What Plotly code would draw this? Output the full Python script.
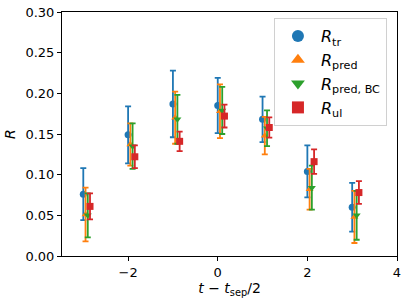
import plotly.graph_objects as go

t = [-3, -2, -1, 0, 1, 2, 3]
offsets = [0.0, 0.05, 0.10, 0.15]

r_tr = [0.076, 0.149, 0.187, 0.185, 0.168, 0.104, 0.060]
e_tr = [0.032, 0.035, 0.041, 0.034, 0.028, 0.032, 0.030]
r_pred = [0.051, 0.137, 0.170, 0.178, 0.148, 0.082, 0.048]
e_pred = [0.033, 0.026, 0.032, 0.033, 0.023, 0.025, 0.032]
r_bc = [0.050, 0.135, 0.168, 0.179, 0.157, 0.084, 0.050]
e_bc = [0.027, 0.028, 0.030, 0.029, 0.022, 0.027, 0.030]
r_ul = [0.061, 0.122, 0.141, 0.172, 0.158, 0.116, 0.078]
e_ul = [0.016, 0.014, 0.012, 0.014, 0.0125, 0.015, 0.014]

names = ["<i>R</i><sub>tr</sub>", "<i>R</i><sub>pred</sub>",
         "<i>R</i><sub>pred, BC</sub>", "<i>R</i><sub>ul</sub>"]
colors = ["#1f77b4", "#ff7f0e", "#2ca02c", "#d62728"]
symbols = ["circle", "triangle-up", "triangle-down", "square"]
vals = [r_tr, r_pred, r_bc, r_ul]
errs = [e_tr, e_pred, e_bc, e_ul]

fig = go.Figure()
for i in range(4):
    fig.add_trace(go.Scatter(
        x=[v + offsets[i] for v in t], y=vals[i], mode="markers", name=names[i],
        marker=dict(color=colors[i], symbol=symbols[i], size=7),
        error_y=dict(type="data", array=errs[i], visible=True, color=colors[i],
                     thickness=1.8, width=3),
    ))

font = "DejaVu Sans"
fig.update_layout(
    width=407, height=301,
    margin=dict(l=62, r=10, t=12, b=45, autoexpand=False),
    paper_bgcolor="white", plot_bgcolor="white",
    font=dict(family=font, size=13, color="black"),
    showlegend=True,
    legend=dict(x=0.97, y=0.975, xanchor="right", yanchor="top",
                bordercolor="#d0d0d0", borderwidth=1, bgcolor="rgba(255,255,255,0.8)",
                font=dict(size=16), itemsizing="constant", tracegroupgap=0,
                itemwidth=36),
)
fig.update_xaxes(range=[-3.475, 4], tickvals=[-2, 0, 2, 4],
                 ticktext=["\u22122", "0", "2", "4"], automargin=False,
                 showline=True, linecolor="black", linewidth=1, mirror=True,
                 ticks="outside", ticklen=4, tickcolor="black", showgrid=False, zeroline=False,
                 title=dict(text="<i>t</i> \u2212 <i>t</i><sub>sep</sub>/2", standoff=4,
                            font=dict(size=14)))
fig.update_yaxes(range=[0, 0.30], tickvals=[0, 0.05, 0.10, 0.15, 0.20, 0.25, 0.30],
                 tickformat=".2f", automargin=False,
                 showline=True, linecolor="black", linewidth=1, mirror=True,
                 ticks="outside", ticklen=4, tickcolor="black", showgrid=False, zeroline=False,
                 title=dict(text="<i>R</i>", standoff=6, font=dict(size=14)))
fig.write_html("out.html", config={"displayModeBar": False},
               post_script="document.body.style.margin='0';")
